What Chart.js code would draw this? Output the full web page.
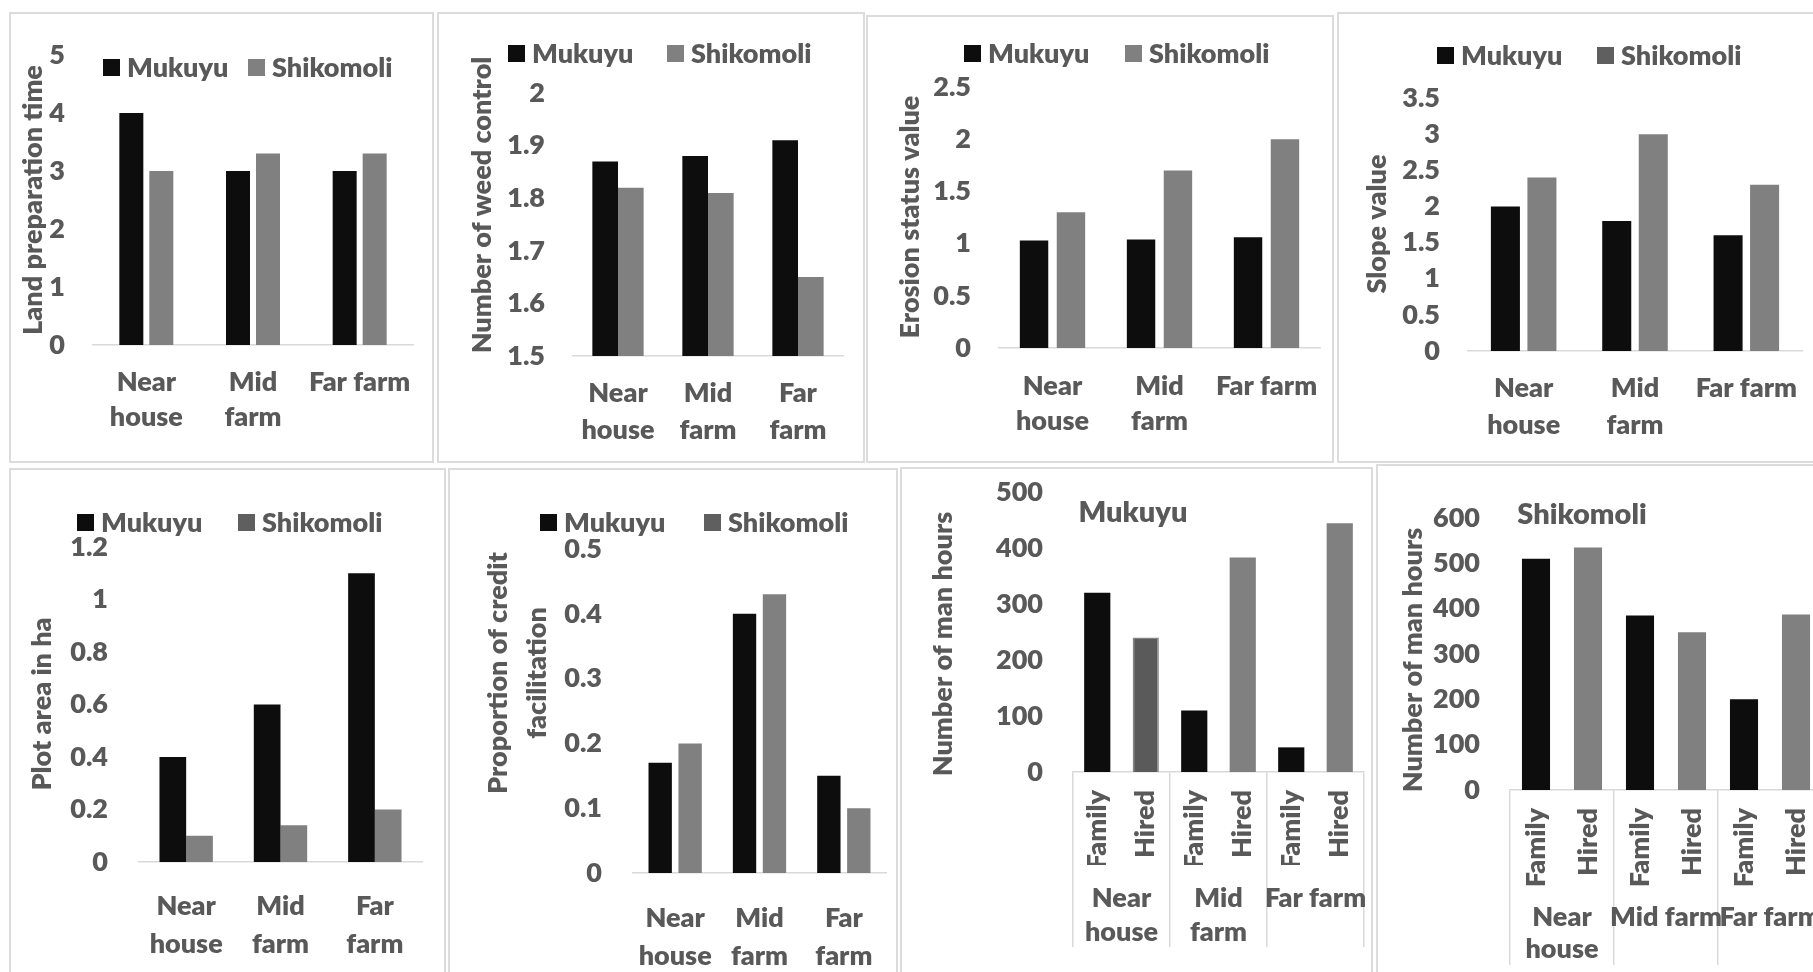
<!DOCTYPE html>
<html>
<head>
<meta charset="utf-8">
<title>Mukuyu and Shikomoli: farm distance comparisons</title>
<script src="https://cdn.jsdelivr.net/npm/chart.js@4.4.1/dist/chart.umd.min.js"></script>
<style>
  html, body { margin: 0; padding: 0; background: #fff; width: 1813px; height: 972px; overflow: hidden; }
  .frame { position: absolute; box-sizing: border-box; border: 2px solid #dcdcdc; background: #fff; }
  canvas { position: absolute; }
</style>
</head>
<body>
<script>
// ---------- data ----------
const categories = ['Near house', 'Mid farm', 'Far farm'];
const sites = ['Mukuyu', 'Shikomoli'];
const labourTypes = ['Family', 'Hired'];

const landPrepMukuyu = [4, 3, 3];
const landPrepShikomoli = [3, 3.3, 3.3];

const weedMukuyu = [1.87, 1.88, 1.91];
const weedShikomoli = [1.82, 1.81, 1.65];

const erosionMukuyu = [1.03, 1.04, 1.06];
const erosionShikomoli = [1.3, 1.7, 2.0];

const slopeMukuyu = [2.0, 1.8, 1.6];
const slopeShikomoli = [2.4, 3.0, 2.3];

const plotAreaMukuyu = [0.4, 0.6, 1.1];
const plotAreaShikomoli = [0.1, 0.14, 0.2];

const creditMukuyu = [0.17, 0.40, 0.15];
const creditShikomoli = [0.20, 0.43, 0.10];

// man hours: Family, Hired for each distance class
const manHoursMukuyu = [320, 240, 110, 383, 44, 444];
const manHoursShikomoli = [510, 535, 385, 348, 200, 387];

// value-axis ranges: [min, max, step]
const landPrepAxis = [0, 5, 1];
const weedAxis = [1.5, 2, 0.1];
const erosionAxis = [0, 2.5, 0.5];
const slopeAxis = [0, 3.5, 0.5];
const plotAreaAxis = [0, 1.2, 0.2];
const creditAxis = [0, 0.5, 0.1];
const manHoursMukuyuAxis = [0, 500, 100];
const manHoursShikomoliAxis = [0, 600, 100];

// category tick labels, wrapped onto lines
const ticksAllWrapped = categories.map(c => c.split(' '));
const ticksFarOneLine = categories.map((c, i) => i < 2 ? c.split(' ') : c);
const ticksNearWrapped = categories.map((c, i) => i === 0 ? c.split(' ') : c);
const labourTicks = categories.flatMap(() => labourTypes);

// ---------- styling ----------
const TEXT_COLOR = '#595959';
const AXIS_COLOR = '#d9d9d9';
const FAMILY = 'Lato, "Open Sans", sans-serif';
const WEIGHT = 800;
const MUKUYU_COLOR = '#0d0d0d';
const SHIKOMOLI_COLOR = '#808080';
const FS = 27;
const fontStr = size => `${WEIGHT} ${size}px ${FAMILY}`;
const tickFont = extra => Object.assign({ family: FAMILY, size: FS, weight: WEIGHT }, extra || {});
// general number format: 2 rather than 2.0, 1.9 rather than 1.90
const formatValue = v => String(Number(v.toFixed(3)));

// legend, rotated axis titles and panel titles
const panelText = {
  id: 'panelText',
  afterDraw(chart, _args, o) {
    const ctx = chart.ctx;
    const ox = o.origin[0], oy = o.origin[1];
    ctx.save();
    ctx.textBaseline = 'middle';
    if (o.legend) {
      ctx.font = fontStr(FS);
      chart.data.datasets.forEach((ds, i) => {
        const x = o.legend.xs[i] - ox, y = o.legend.y - oy;
        ctx.fillStyle = (o.legend.swatch && o.legend.swatch[i]) || ds.backgroundColor;
        ctx.fillRect(x, y - 8, 17, 17);
        ctx.fillStyle = TEXT_COLOR;
        ctx.textAlign = 'left';
        ctx.fillText(ds.label, x + 24, y + 1);
      });
    }
    if (o.axisTitle) {
      ctx.font = fontStr(FS);
      ctx.fillStyle = TEXT_COLOR;
      ctx.textAlign = 'center';
      o.axisTitle.lines.forEach((line, i) => {
        ctx.save();
        ctx.translate(o.axisTitle.xs[i] - ox, o.axisTitle.y - oy);
        ctx.rotate(-Math.PI / 2);
        ctx.fillText(line, 0, 0);
        ctx.restore();
      });
    }
    if (o.title) {
      ctx.font = fontStr(o.title.size);
      ctx.fillStyle = TEXT_COLOR;
      ctx.textAlign = 'center';
      ctx.fillText(o.title.text, o.title.x - ox, o.title.y - oy);
    }
    ctx.restore();
  }
};

function mount(box) {
  const frame = document.createElement('div');
  frame.className = 'frame';
  Object.assign(frame.style, { left: box.x + 'px', top: box.y + 'px', width: box.w + 'px', height: box.h + 'px' });
  document.body.appendChild(frame);
  const canvas = document.createElement('canvas');
  canvas.width = box.w; canvas.height = box.h;
  Object.assign(canvas.style, { left: box.x + 'px', top: box.y + 'px', width: box.w + 'px', height: box.h + 'px' });
  document.body.appendChild(canvas);
  return canvas;
}

function yScale(p) {
  const [min, max, step] = p.axis;
  return {
    min, max,
    grid: { display: false, drawTicks: false },
    border: { display: false },
    ticks: { stepSize: step, color: TEXT_COLOR, font: tickFont(), padding: p.tickPad, callback: formatValue },
    afterFit(s) { s.width = p.plot.l - p.box.x; s.paddingTop = 0; s.paddingBottom = 0; }
  };
}

// grouped bars for the two sites
function siteChart(p) {
  const canvas = mount(p.box);
  const X_H = 100;
  new Chart(canvas, {
    type: 'bar',
    data: {
      labels: p.ticks,
      datasets: [
        { label: sites[0], data: p.series[0], backgroundColor: MUKUYU_COLOR, borderWidth: 0 },
        { label: sites[1], data: p.series[1], backgroundColor: SHIKOMOLI_COLOR, borderWidth: 0 }
      ]
    },
    options: {
      responsive: false, animation: false, devicePixelRatio: 1,
      categoryPercentage: p.cat, barPercentage: p.bar,
      layout: { padding: {
        left: 0,
        top: p.plot.t - p.box.y,
        right: p.box.x + p.box.w - p.plot.r,
        bottom: p.box.y + p.box.h - p.plot.b - X_H
      } },
      plugins: {
        legend: { display: false }, tooltip: { enabled: false },
        panelText: { origin: [p.box.x, p.box.y], legend: p.legend, axisTitle: p.yTitle }
      },
      scales: {
        x: {
          grid: { display: false, drawTicks: false },
          border: { display: true, color: AXIS_COLOR, width: 1.5 },
          ticks: {
            color: TEXT_COLOR, autoSkip: false, minRotation: 0, maxRotation: 0, padding: p.xPad,
            font: tickFont({ lineHeight: p.xLine / FS })
          },
          afterFit(s) { s.height = X_H; s.paddingLeft = 0; s.paddingRight = 0; }
        },
        y: yScale(p)
      }
    },
    plugins: [panelText]
  });
}

// man hours by labour type, grouped by distance class
function labourChart(p) {
  const canvas = mount(p.box);
  const tl = p.h1 + p.h2;
  new Chart(canvas, {
    type: 'bar',
    data: {
      labels: labourTicks,
      datasets: [{
        label: p.site, data: p.values,
        backgroundColor: p.colors, borderColor: '#858585', borderWidth: p.borders
      }]
    },
    options: {
      responsive: false, animation: false, devicePixelRatio: 1,
      categoryPercentage: p.cat, barPercentage: 1,
      layout: { padding: {
        left: 0,
        top: p.plot.t - p.box.y,
        right: p.box.x + p.box.w - p.plot.r,
        bottom: p.box.y + p.box.h - p.plot.b - tl
      } },
      plugins: {
        legend: { display: false }, tooltip: { enabled: false },
        panelText: { origin: [p.box.x, p.box.y], axisTitle: p.yTitle, title: p.title }
      },
      scales: {
        x: {
          weight: 0,
          grid: {
            display: true, drawOnChartArea: false, drawTicks: true, tickLength: tl, offset: true, lineWidth: 1.5,
            color: c => (c.index === undefined || c.index % 2 === 0) ? AXIS_COLOR : 'rgba(0,0,0,0)'
          },
          border: { display: true, color: AXIS_COLOR, width: 1.5 },
          ticks: {
            color: TEXT_COLOR, autoSkip: false, minRotation: 90, maxRotation: 90,
            padding: p.subTop - p.plot.b - tl,
            font: tickFont()
          },
          afterFit(s) { s.height = p.h1; s.paddingLeft = 0; s.paddingRight = 0; }
        },
        x2: {
          type: 'category', labels: p.groups, position: 'bottom', offset: true, weight: 1,
          grid: { display: false, drawTicks: false },
          border: { display: false },
          ticks: {
            color: TEXT_COLOR, autoSkip: false, minRotation: 0, maxRotation: 0, padding: p.groupPad,
            font: tickFont({ lineHeight: p.groupLine / FS })
          },
          afterFit(s) { s.height = p.h2; s.paddingLeft = 0; s.paddingRight = 0; }
        },
        y: yScale(p)
      }
    },
    plugins: [panelText]
  });
}

const LEGEND_DARK = [MUKUYU_COLOR, '#5f5f5f'];

siteChart({
  box: { x: 9, y: 12, w: 425, h: 451 }, plot: { l: 93, t: 55, r: 413, b: 345 },
  ticks: ticksFarOneLine, series: [landPrepMukuyu, landPrepShikomoli], axis: landPrepAxis,
  cat: 0.5625, bar: 0.8, tickPad: 28, xPad: 20, xLine: 35,
  legend: { y: 67, xs: [103, 248] },
  yTitle: { lines: ['Land preparation time'], xs: [33], y: 200 }
});
siteChart({
  box: { x: 437, y: 12, w: 428, h: 451 }, plot: { l: 573, t: 93, r: 843, b: 356 },
  ticks: ticksAllWrapped, series: [weedMukuyu, weedShikomoli], axis: weedAxis,
  cat: 0.57, bar: 1, tickPad: 28, xPad: 19, xLine: 37,
  legend: { y: 53, xs: [508, 667] },
  yTitle: { lines: ['Number of weed control'], xs: [482], y: 205 }
});
siteChart({
  box: { x: 866, y: 15, w: 468, h: 448 }, plot: { l: 999, t: 87, r: 1320, b: 348 },
  ticks: ticksFarOneLine, series: [erosionMukuyu, erosionShikomoli], axis: erosionAxis,
  cat: 0.69, bar: 0.77, tickPad: 28, xPad: 21, xLine: 35,
  legend: { y: 53, xs: [964, 1125] },
  yTitle: { lines: ['Erosion status value'], xs: [910], y: 217 }
});
siteChart({
  box: { x: 1337, y: 12, w: 500, h: 451 }, plot: { l: 1468, t: 98, r: 1802, b: 351 },
  ticks: ticksFarOneLine, series: [slopeMukuyu, slopeShikomoli], axis: slopeAxis,
  cat: 0.656, bar: 0.795, tickPad: 28, xPad: 19, xLine: 37,
  legend: { y: 55, xs: [1437, 1597], swatch: LEGEND_DARK },
  yTitle: { lines: ['Slope value'], xs: [1377], y: 224 }
});
siteChart({
  box: { x: 9, y: 468, w: 437, h: 512 }, plot: { l: 139, t: 547, r: 422, b: 862 },
  ticks: ticksAllWrapped, series: [plotAreaMukuyu, plotAreaShikomoli], axis: plotAreaAxis,
  cat: 0.566, bar: 1, tickPad: 31, xPad: 25, xLine: 38,
  legend: { y: 522, xs: [77, 238], swatch: LEGEND_DARK },
  yTitle: { lines: ['Plot area in ha'], xs: [42], y: 704 }
});
siteChart({
  box: { x: 448, y: 468, w: 450, h: 512 }, plot: { l: 633, t: 549, r: 886, b: 873 },
  ticks: ticksAllWrapped, series: [creditMukuyu, creditShikomoli], axis: creditAxis,
  cat: 0.71, bar: 0.78, tickPad: 31, xPad: 26, xLine: 38,
  legend: { y: 522, xs: [540, 704], swatch: LEGEND_DARK },
  yTitle: { lines: ['Proportion of credit', 'facilitation'], xs: [498, 537], y: 673 }
});
labourChart({
  box: { x: 900, y: 467, w: 473, h: 513 }, plot: { l: 1073, t: 492, r: 1364, b: 772 },
  site: sites[0], values: manHoursMukuyu, axis: manHoursMukuyuAxis, groups: ticksFarOneLine,
  colors: [MUKUYU_COLOR, '#5a5a5a', MUKUYU_COLOR, SHIKOMOLI_COLOR, MUKUYU_COLOR, SHIKOMOLI_COLOR],
  borders: [0, 1.5, 0, 0, 0, 0],
  cat: 0.54, tickPad: 30, h1: 93, h2: 82, subTop: 790, groupPad: 16, groupLine: 34,
  title: { text: sites[0], x: 1133, y: 513, size: 29 },
  yTitle: { lines: ['Number of man hours'], xs: [943], y: 644 }
});
labourChart({
  box: { x: 1376, y: 464, w: 470, h: 516 }, plot: { l: 1510, t: 518, r: 1822, b: 790 },
  site: sites[1], values: manHoursShikomoli, axis: manHoursShikomoliAxis, groups: ticksNearWrapped,
  colors: [MUKUYU_COLOR, SHIKOMOLI_COLOR, MUKUYU_COLOR, SHIKOMOLI_COLOR, MUKUYU_COLOR, SHIKOMOLI_COLOR],
  borders: [0, 0, 0, 0, 0, 0],
  cat: 0.54, tickPad: 30, h1: 100, h2: 75, subTop: 808, groupPad: 11, groupLine: 32,
  title: { text: sites[1], x: 1582, y: 515, size: 29 },
  yTitle: { lines: ['Number of man hours'], xs: [1413], y: 660 }
});
</script>
</body>
</html>
